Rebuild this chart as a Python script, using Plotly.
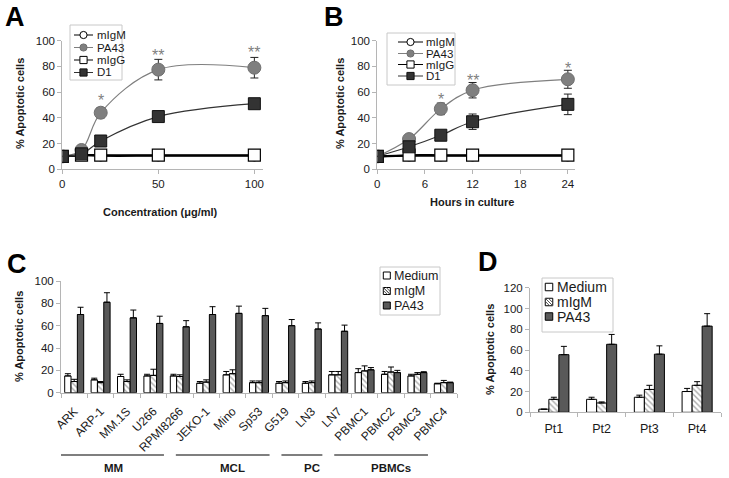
import plotly.graph_objects as go

W, H = 729, 478

# ---------------- Panel A data ----------------
conc = [0, 10, 20, 50, 100]
A_mIgM = [10, 11, 10.5, 10.5, 10.5]
A_PA43 = [10, 15, 44, 77.5, 79]
A_PA43_err = [0, 0, 4, 8, 8]
A_mIgG = [10, 11, 11, 11, 11]
A_D1 = [10, 12, 22, 41, 51]
A_stars = ["", "", "*", "**", "**"]
A_star_y = [None, None, 56, 90.5, 93]

# ---------------- Panel B data ----------------
hours = [0, 4, 8, 12, 24]
B_mIgM = [10, 10.5, 10.5, 10.5, 10.5]
B_PA43 = [10, 23.5, 47, 61.5, 70]
B_PA43_err = [0, 0, 4.5, 6, 7]
B_mIgG = [10, 11, 11, 11, 11]
B_D1 = [10, 17.5, 26.5, 37, 50.5]
B_D1_err = [0, 0, 3.5, 6, 8]
B_stars = ["", "", "*", "**", "*"]
B_star_y = [None, None, 56.5, 71.5, 81]

# ---------------- Panel C data ----------------
C_cells = ["ARK", "ARP-1", "MM.1S", "U266", "RPMI8266", "JEKO-1", "Mino", "Sp53",
           "G519", "LN3", "LN7", "PBMC1", "PBMC2", "PBMC3", "PBMC4"]
C_medium = [15, 11.5, 14.5, 15, 15, 8.5, 16, 9, 8.5, 8.5, 16, 18, 16.5, 15, 8]
C_medium_err = [2, 1.5, 2, 1.5, 1.5, 1.5, 3, 1.5, 1.5, 1.5, 3, 3.5, 2.5, 1.5, 0.5]
C_mIgM = [10, 9, 10, 15.5, 14.5, 9.5, 17, 9, 9, 9, 16, 19.5, 18.5, 16.5, 9]
C_mIgM_err = [2, 1, 1.5, 5.5, 1.5, 2, 3.5, 1.5, 1.5, 1.5, 3, 4.5, 4.5, 1.5, 2]
C_PA43 = [70, 81, 67, 62, 59, 70, 71, 69, 60, 57, 55, 20.5, 18, 18, 9]
C_PA43_err = [6.5, 8.5, 7, 6.5, 5.5, 7, 6.5, 6.5, 5.5, 5.5, 5.5, 2, 2, 0.8, 0.5]
C_groups = [("MM", 0, 4), ("MCL", 5, 8), ("PC", 9, 10), ("PBMCs", 11, 14)]

# ---------------- Panel D data ----------------
D_pts = ["Pt1", "Pt2", "Pt3", "Pt4"]
D_medium = [3, 12.5, 14.5, 20]
D_medium_err = [0, 2, 2, 3]
D_mIgM = [12.5, 9, 22, 26]
D_mIgM_err = [2, 1, 4, 3.5]
D_PA43 = [55.5, 65.5, 56, 83]
D_PA43_err = [8, 9.5, 8, 12]

line_names = ["mIgM", "PA43", "mIgG", "D1"]
bar_names = ["Medium", "mIgM", "PA43"]

FONT = "Arial, Liberation Sans, sans-serif"
AXC = "#b5b5b5"
TXT = "#1a1a1a"
GRAY = "#7f7f7f"
DARK = "#333333"
BARDARK = "#595959"
HATCH_C = "#555"


def px_x(p):
    return p / W


def px_y(p):
    return 1 - p / H


fig = go.Figure()
shapes = []
ann = []

LINE_STYLES = {
    "mIgM": dict(line=dict(color="black", width=2),
                 marker=dict(symbol="circle", size=10, color="white",
                             line=dict(color="black", width=1.2))),
    "PA43": dict(line=dict(color=GRAY, width=1.2),
                 marker=dict(symbol="circle", size=13, color=GRAY,
                             line=dict(color="#6f6f6f", width=1))),
    "mIgG": dict(line=dict(color="black", width=2),
                 marker=dict(symbol="square", size=12, color="white",
                             line=dict(color="black", width=1.2))),
    "D1": dict(line=dict(color=DARK, width=1.2),
               marker=dict(symbol="square", size=12, color=DARK,
                           line=dict(color="#111", width=1))),
}


def line_panel(x, series, errs, xa, ya):
    for nm, vals in zip(line_names, series):
        st = LINE_STYLES[nm]
        kw = dict(x=x, y=vals, name=nm, mode="lines+markers",
                  line=dict(st["line"], shape="spline"), marker=st["marker"],
                  xaxis=xa, yaxis=ya)
        if errs.get(nm) is not None:
            kw["error_y"] = dict(type="data", array=errs[nm], color="#222",
                                 thickness=1, width=4)
        fig.add_trace(go.Scatter(**kw))


line_panel(conc, [A_mIgM, A_PA43, A_mIgG, A_D1], {"PA43": A_PA43_err}, "x", "y")
line_panel(hours, [B_mIgM, B_PA43, B_mIgG, B_D1],
           {"PA43": B_PA43_err, "D1": B_D1_err}, "x2", "y2")

# Bars
HATCH = dict(shape="\\", fgcolor=HATCH_C, bgcolor="white", size=4, solidity=0.35)
BAR_STYLES = {"Medium": dict(color="white"),
              "mIgM": dict(color="white", pattern=HATCH),
              "PA43": dict(color=BARDARK)}


def bar_panel(cats, series, errs, xa, ya, w):
    for k, (nm, vals, err) in enumerate(zip(bar_names, series, errs)):
        mk = dict(BAR_STYLES[nm])
        mk["line"] = dict(color="black", width=1)
        fig.add_trace(go.Bar(x=cats, y=vals, name=nm, marker=mk,
                             width=w, offset=(-1.5 + k) * w,
                             error_y=dict(type="data", array=err,
                                          arrayminus=[0] * len(err), symmetric=False,
                                          color="black", thickness=1, width=3),
                             xaxis=xa, yaxis=ya))


bar_panel(C_cells, [C_medium, C_mIgM, C_PA43], [C_medium_err, C_mIgM_err, C_PA43_err],
          "x3", "y3", 0.24)
bar_panel(D_pts, [D_medium, D_mIgM, D_PA43], [D_medium_err, D_mIgM_err, D_PA43_err],
          "x4", "y4", 0.21)


# ---------------- legends (compact boxes like the original) ----------------
def box(x0, y0, x1, y1):
    shapes.append(dict(type="rect", xref="paper", yref="paper", layer="above",
                       x0=px_x(x0), x1=px_x(x1), y0=px_y(y1), y1=px_y(y0),
                       fillcolor="white", line=dict(color="#c8c8c8", width=1)))


def legend_text(txt, x, y, size):
    ann.append(dict(x=px_x(x), y=px_y(y), xref="paper", yref="paper", text=txt,
                    showarrow=False, xanchor="left", yanchor="middle",
                    font=dict(family=FONT, size=size, color=TXT)))


def line_legend(bx, rows, lx, tx, size):
    box(*bx)
    for nm, yc in zip(line_names, rows):
        st = LINE_STYLES[nm]
        shapes.append(dict(type="line", xref="paper", yref="paper", layer="above",
                           x0=px_x(lx[0]), x1=px_x(lx[1]), y0=px_y(yc), y1=px_y(yc),
                           line=dict(color=st["line"]["color"], width=1)))
        cx = (lx[0] + lx[1]) / 2
        r = 3.6
        mk = st["marker"]
        shapes.append(dict(type="circle" if mk["symbol"] == "circle" else "rect",
                           xref="paper", yref="paper", layer="above",
                           x0=px_x(cx - r), x1=px_x(cx + r),
                           y0=px_y(yc + r), y1=px_y(yc - r),
                           fillcolor=mk["color"], line=dict(color=mk["line"]["color"], width=1)))
        legend_text(nm, tx, yc, size)


def bar_legend(bx, rows, sx, s, tx, size):
    box(*bx)
    for nm, yc in zip(bar_names, rows):
        x0, x1, ya, yb = sx - s / 2, sx + s / 2, yc - s / 2, yc + s / 2
        fill = BAR_STYLES[nm]["color"]
        shapes.append(dict(type="rect", xref="paper", yref="paper", layer="above",
                           x0=px_x(x0), x1=px_x(x1), y0=px_y(yb), y1=px_y(ya),
                           fillcolor=fill, line=dict(color="black", width=1)))
        if "pattern" in BAR_STYLES[nm]:
            for a in (0.0, s / 2.4):
                for seg in (((x0 + a, ya), (x1, yb - a)), ((x0, ya + a), (x1 - a, yb))):
                    (p0, q0), (p1, q1) = seg
                    if p1 - p0 > 0.5:
                        shapes.append(dict(type="line", xref="paper", yref="paper",
                                           layer="above", x0=px_x(p0), x1=px_x(p1),
                                           y0=px_y(q0), y1=px_y(q1),
                                           line=dict(color=HATCH_C, width=1)))
        legend_text(nm, tx, yc, size)


line_legend((70, 25, 122, 80), [35, 47.5, 60, 72.5], (74, 93), 94.5, 11.5)
line_legend((387, 33, 455, 85), [42, 53.5, 64.5, 76], (398, 423), 424.5, 11.5)
bar_legend((380, 267, 440, 315), [275.5, 291, 305.5], 386.8, 7, 391.5, 12.5)
bar_legend((542, 278, 613, 332), [287, 302, 316.5], 549, 7.5, 555, 14)

tickfont = dict(family=FONT, size=11.5, color=TXT)
ax_common = dict(showline=True, linecolor=AXC, linewidth=1, showgrid=False,
                 zeroline=False, ticks="outside", ticklen=4, tickcolor=AXC,
                 tickfont=tickfont, automargin=False)

# significance stars
for xs, stars, sy, xa, ya in [(conc, A_stars, A_star_y, "x", "y"),
                              (hours, B_stars, B_star_y, "x2", "y2")]:
    for xv, s, yv in zip(xs, stars, sy):
        if s:
            ann.append(dict(x=xv, y=yv, xref=xa, yref=ya, text=s, showarrow=False,
                            yshift=-3, font=dict(family=FONT, size=16, color=GRAY)))

# panel letters
for letter, cx, cy in [("A", 15, 17), ("B", 334, 17), ("C", 17, 264), ("D", 488, 262)]:
    ann.append(dict(x=px_x(cx), y=px_y(cy), xref="paper", yref="paper", text=letter,
                    showarrow=False, xanchor="center", yanchor="middle",
                    font=dict(family=FONT, size=27, color="black", weight="bold")))

# axis titles
title_font = dict(family=FONT, size=11, color=TXT, weight="bold")
for txt, cx, cy, ang in [("% Apoptotic cells", 20, 104, -90),
                         ("% Apoptotic cells", 340, 104, -90),
                         ("% Apoptotic cells", 19, 337, -90),
                         ("% Apoptotic cells", 490, 350, -90),
                         ("Concentration (μg/ml)", 160, 212, 0),
                         ("Hours in culture", 472, 202, 0)]:
    ann.append(dict(x=px_x(cx), y=px_y(cy), xref="paper", yref="paper", text=txt,
                    showarrow=False, xanchor="center", yanchor="middle",
                    textangle=ang, font=title_font))

# group brackets under panel C
for nm, a, b in C_groups:
    shapes.append(dict(type="line", xref="x3", yref="paper", x0=a - 1.15, x1=b - 0.6,
                       y0=px_y(455), y1=px_y(455), line=dict(color="#555", width=1.5)))
    ann.append(dict(x=(a + b) / 2 - 0.5, y=px_y(468), xref="x3", yref="paper", text=nm,
                    showarrow=False, xanchor="center", yanchor="middle",
                    font=dict(family=FONT, size=11.5, color=TXT, weight="bold")))

fig.update_layout(
    width=W, height=H, margin=dict(l=0, r=0, t=0, b=0, autoexpand=False),
    paper_bgcolor="white", plot_bgcolor="white",
    font=dict(family=FONT, color=TXT),
    showlegend=False, barmode="overlay",
    xaxis=dict(ax_common, domain=[px_x(62.3), px_x(263)], range=[0, 104.5],
               tickvals=[0, 50, 100], anchor="y"),
    yaxis=dict(ax_common, domain=[px_y(169.3), px_y(40.7)], range=[0, 100], dtick=20,
               anchor="x"),
    xaxis2=dict(ax_common, domain=[px_x(377.3), px_x(575)], range=[0, 24.9],
                tickvals=[0, 6, 12, 18, 24], anchor="y2"),
    yaxis2=dict(ax_common, domain=[px_y(169.3), px_y(40.7)], range=[0, 100], dtick=20,
                anchor="x2"),
    xaxis3=dict(ax_common, domain=[px_x(61), px_x(457)], range=[-0.5, 14.5],
                tickangle=-45, tickson="boundaries", anchor="y3",
                tickfont=dict(family=FONT, size=12, color=TXT), ticklabelstandoff=6),
    yaxis3=dict(ax_common, domain=[px_y(392.7), px_y(281)], range=[0, 100], dtick=20,
                anchor="x3"),
    xaxis4=dict(ax_common, domain=[px_x(530), px_x(721)], range=[-0.5, 3.5],
                tickson="boundaries", anchor="y4",
                tickfont=dict(family=FONT, size=12.5, color=TXT), ticklabelstandoff=5),
    yaxis4=dict(ax_common, domain=[px_y(412.3), px_y(287.7)], range=[0, 120], dtick=20,
                anchor="x4"),
    annotations=ann, shapes=shapes,
)

# the page's default body margin would shift the figure by 8px; remove it
fig.write_html("out.html", config={"displayModeBar": False},
               post_script="document.body.style.margin='0px';")
